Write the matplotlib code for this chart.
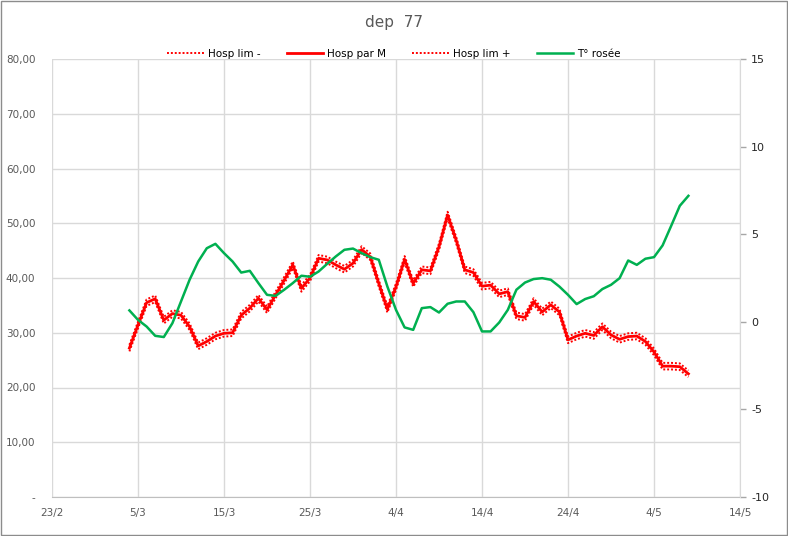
import numpy as np
import pandas as pd
import matplotlib
matplotlib.use("Agg")
import matplotlib.pyplot as plt
import matplotlib.dates as mdates
from matplotlib.patches import Rectangle

plt.rcParams["axes.unicode_minus"] = False

# Données (une valeur par jour à partir du 4/3/2021)
dates = pd.date_range("2021-03-04", periods=66, freq="D")

hosp_lim_moins = [26.6, 30.8, 34.9, 35.6, 31.7, 32.9, 32.6, 30.5, 27.0, 27.8,
                  28.8, 29.3, 29.4, 32.6, 33.9, 35.7, 33.6, 36.3, 39.0, 41.8,
                  37.5, 39.4, 43.0, 42.7, 41.8, 41.0, 42.1, 44.6, 43.3, 38.4,
                  33.7, 37.8, 42.8, 38.4, 40.9, 40.7, 45.1, 50.9, 46.3, 40.9,
                  40.4, 37.9, 38.1, 36.5, 36.9, 32.5, 32.2, 35.1, 33.2, 34.5,
                  33.2, 28.1, 28.8, 29.3, 28.9, 30.5, 29.0, 28.2, 28.7, 28.8,
                  27.8, 25.9, 23.3, 23.3, 23.2, 21.9]

hosp_par_m = [27.2, 31.4, 35.5, 36.2, 32.3, 33.5, 33.2, 31.1, 27.6, 28.4,
              29.4, 29.9, 30.0, 33.2, 34.5, 36.3, 34.2, 36.9, 39.6, 42.4,
              38.1, 40.0, 43.6, 43.3, 42.4, 41.6, 42.7, 45.2, 43.9, 39.0,
              34.3, 38.4, 43.4, 39.0, 41.5, 41.3, 45.7, 51.5, 46.9, 41.5,
              41.0, 38.5, 38.7, 37.1, 37.5, 33.1, 32.8, 35.7, 33.8, 35.1,
              33.8, 28.7, 29.4, 29.9, 29.5, 31.1, 29.6, 28.8, 29.3, 29.4,
              28.4, 26.5, 23.9, 23.9, 23.8, 22.5]

hosp_lim_plus = [27.8, 32.0, 36.1, 36.8, 32.9, 34.1, 33.8, 31.7, 28.2, 29.0,
                 30.0, 30.5, 30.6, 33.8, 35.1, 36.9, 34.8, 37.5, 40.2, 43.0,
                 38.7, 40.6, 44.2, 43.9, 43.0, 42.2, 43.3, 45.8, 44.5, 39.6,
                 34.9, 39.0, 44.0, 39.6, 42.1, 41.9, 46.3, 52.1, 47.5, 42.1,
                 41.6, 39.1, 39.3, 37.7, 38.1, 33.7, 33.4, 36.3, 34.4, 35.7,
                 34.4, 29.3, 30.0, 30.5, 30.1, 31.7, 30.2, 29.4, 29.9, 30.0,
                 29.0, 27.1, 24.5, 24.5, 24.4, 23.1]

t_rosee = [0.65, 0.11, -0.27, -0.80, -0.87, -0.08, 1.16, 2.40, 3.44, 4.20,
           4.45, 3.92, 3.44, 2.81, 2.91, 2.21, 1.54, 1.48, 1.83, 2.21,
           2.63, 2.57, 2.87, 3.31, 3.73, 4.11, 4.18, 3.92, 3.69, 3.54,
           2.01, 0.68, -0.32, -0.46, 0.78, 0.84, 0.53, 1.03, 1.16, 1.16,
           0.55, -0.55, -0.55, -0.04, 0.68, 1.83, 2.24, 2.44, 2.49, 2.40,
           2.01, 1.54, 1.01, 1.30, 1.46, 1.87, 2.11, 2.49, 3.50, 3.25,
           3.60, 3.69, 4.36, 5.48, 6.62, 7.19]

x_ticks = pd.date_range("2021-02-23", "2021-05-14", freq="10D")
y_left_ticks = [0, 10, 20, 30, 40, 50, 60, 70, 80]
y_left_labels = ["-", "10,00", "20,00", "30,00", "40,00", "50,00", "60,00", "70,00", "80,00"]
y_right_ticks = [-10, -5, 0, 5, 10, 15]

ROUGE = "#FF0000"
VERT = "#00B050"
GRIS = "#595959"
GRILLE = "#D9D9D9"

fig = plt.figure(figsize=(7.88, 5.36), dpi=100)
ax = fig.add_axes([52/788, 1-497/536, (740-52)/788, (497-59)/536])
ax2 = ax.twinx()

dot = (0, (1, 1))
l1, = ax.plot(dates, hosp_lim_moins, color=ROUGE, lw=1.4, linestyle=dot, label="Hosp lim -")
l2, = ax.plot(dates, hosp_par_m, color=ROUGE, lw=2.0, label="Hosp par M")
l3, = ax.plot(dates, hosp_lim_plus, color=ROUGE, lw=1.4, linestyle=dot, label="Hosp lim +")
l4, = ax2.plot(dates, t_rosee, color=VERT, lw=1.8, label="T° rosée")

ax.set_xlim(x_ticks[0], x_ticks[-1])
ax.set_ylim(0, 80)
ax2.set_ylim(-10, 15)

ax.set_xticks(x_ticks)
ax.set_xticklabels([f"{d.day}/{d.month}" for d in x_ticks])
ax.set_yticks(y_left_ticks)
ax.set_yticklabels(y_left_labels)
ax2.set_yticks(y_right_ticks)

ax.grid(True, color=GRILLE, lw=1)
ax.set_axisbelow(True)

for s in ["top", "left", "right"]:
    ax.spines[s].set_visible(False)
ax.spines["bottom"].set_color("#BFBFBF")
for s in ["top", "left", "bottom"]:
    ax2.spines[s].set_visible(False)
ax2.spines["right"].set_color(GRILLE)

ax.tick_params(axis="x", length=0, pad=8, labelsize=7.5, labelcolor=GRIS)
ax.tick_params(axis="y", length=0, pad=12, labelsize=7.5, labelcolor=GRIS)
ax2.tick_params(axis="y", length=4, width=1, color="#A6A6A6", pad=4, labelsize=8, labelcolor="#262626")

fig.text(0.5, 1-22/536, "dep  77", ha="center", va="center", fontsize=11, color=GRIS)

fig.legend(handles=[l1, l2, l3, l4], loc="center", bbox_to_anchor=(0.5, 1-54/536),
           ncol=4, frameon=False, fontsize=7.5, handlelength=3.5, columnspacing=2.5,
           handletextpad=0.4)

fig.patches.append(Rectangle((0.001, 0.001), 0.998, 0.997, transform=fig.transFigure,
                             fill=False, edgecolor="#8C8C8C", lw=1))

fig.savefig("out.png", dpi=100)
